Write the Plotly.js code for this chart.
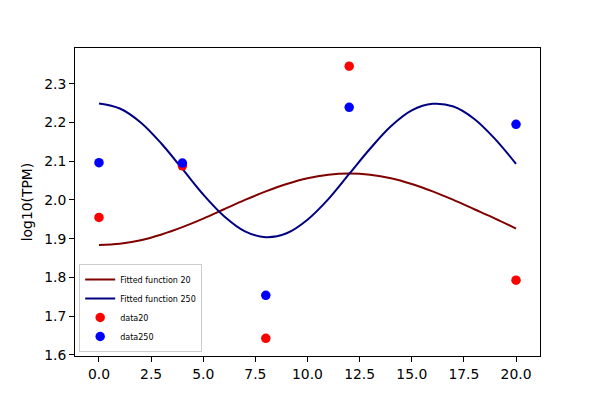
<!DOCTYPE html>
<html>
<head>
<meta charset="utf-8">
<script src="https://cdn.plot.ly/plotly-3.0.1.min.js"></script>
<style>
  html, body { margin: 0; padding: 0; background: #ffffff; }
  #chart { width: 600px; height: 400px; }
</style>
</head>
<body>
<div id="chart"></div>
<script>
// ─── Data ─────────────────────────────────────────────────────────────────────

// measured time points
const timePoints = [0, 4, 8, 12, 20];
const data20 = [1.955, 2.088, 1.643, 2.345, 1.793];
const data250 = [2.096, 2.095, 1.754, 2.239, 2.195];

// fitted curves, sampled every hour
const fitX = [0, 1, 2, 3, 4, 5, 6, 7, 8, 9, 10, 11, 12, 13, 14, 15, 16, 17, 18, 19, 20];
const fit20 = [1.884, 1.887, 1.896, 1.911, 1.930, 1.952, 1.976, 2.000, 2.022, 2.041, 2.056,
               2.065, 2.068, 2.065, 2.056, 2.041, 2.022, 2.000, 1.976, 1.952, 1.926];
const fit250 = [2.249, 2.236, 2.200, 2.145, 2.080, 2.014, 1.958, 1.919, 1.904, 1.914, 1.949,
                2.002, 2.067, 2.132, 2.190, 2.231, 2.248, 2.241, 2.209, 2.157, 2.093];

const xTicks = [0, 2.5, 5, 7.5, 10, 12.5, 15, 17.5, 20];
const yTicks = [1.6, 1.7, 1.8, 1.9, 2.0, 2.1, 2.2, 2.3];

// ─── Traces ───────────────────────────────────────────────────────────────────

const traces = [
    {
        type: 'scatter', mode: 'lines',
        x: fitX, y: fit20,
        name: 'Fitted function 20',
        line: { color: '#800000', width: 2, shape: 'spline' },
    },
    {
        type: 'scatter', mode: 'lines',
        x: fitX, y: fit250,
        name: 'Fitted function 250',
        line: { color: '#000080', width: 2, shape: 'spline' },
    },
    {
        type: 'scatter', mode: 'markers',
        x: timePoints, y: data20,
        name: 'data20',
        marker: { color: '#ff0000', size: 9.5 },
    },
    {
        type: 'scatter', mode: 'markers',
        x: timePoints, y: data250,
        name: 'data250',
        marker: { color: '#0000ff', size: 9.5 },
    },
];

// ─── Layout ───────────────────────────────────────────────────────────────────

const axisStyle = {
    showgrid: false,
    zeroline: false,
    showline: true,
    mirror: true,
    linecolor: '#000000',
    linewidth: 1,
    ticks: 'outside',
    ticklen: 5,
    tickwidth: 1,
    tickcolor: '#000000',
    tickfont: { size: 13.9, color: '#000000' },
    tickformat: '.1f',
};

const layout = {
    width: 600,
    height: 400,
    paper_bgcolor: '#ffffff',
    plot_bgcolor: '#ffffff',
    font: { family: 'DejaVu Sans, sans-serif', color: '#000000' },
    margin: { l: 75, r: 60, t: 48, b: 44 },
    showlegend: true,
    legend: {
        x: 0.009, y: 0.013, xanchor: 'left', yanchor: 'bottom',
        bgcolor: 'rgba(255,255,255,0.8)',
        bordercolor: '#cccccc', borderwidth: 1,
        font: { size: 8, color: '#000000' },
        itemwidth: 30,
        tracegroupgap: 0,
    },
    xaxis: Object.assign({}, axisStyle, {
        range: [-1.15, 21.15],
        tickvals: xTicks,
    }),
    yaxis: Object.assign({}, axisStyle, {
        range: [1.5974, 2.392],
        tickvals: yTicks,
        title: { text: 'log10(TPM)', font: { size: 13.9, color: '#000000' }, standoff: 8 },
    }),
};

Plotly.newPlot('chart', traces, layout, { displayModeBar: false, staticPlot: true });
</script>
</body>
</html>
